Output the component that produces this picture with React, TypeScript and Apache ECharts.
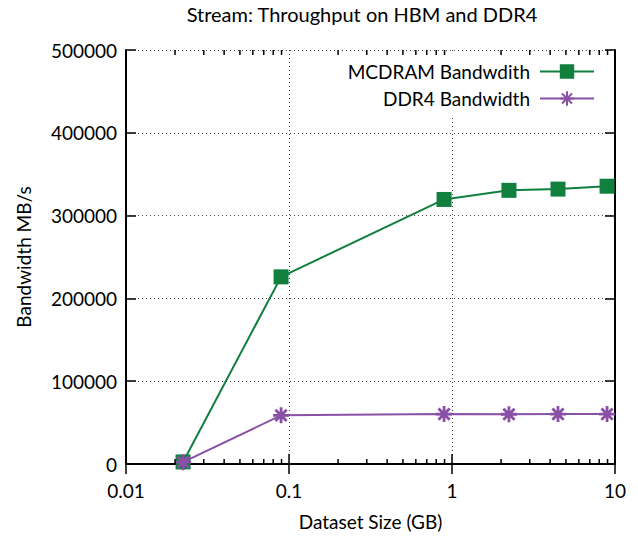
import React, { useEffect, useRef } from "react";
import * as echarts from "echarts";

// Dataset sizes in GB (STREAM arrays: 3 arrays x 8 bytes x N elements)
const datasetSizes = [0.0224, 0.0894, 0.894, 2.235, 4.47, 8.94];
// Measured bandwidth in MB/s
const mcdramBandwidth = [2500, 226000, 319500, 330500, 332000, 335500];
const ddr4Bandwidth = [2200, 58800, 60300, 60100, 60300, 60300];

const seriesNames = ["MCDRAM Bandwdith", "DDR4 Bandwidth"];
const titleText = "Stream: Throughput on HBM and DDR4";
const xAxisName = "Dataset Size (GB)";
const yAxisName = "Bandwidth MB/s";

// Minor tick positions on the log axis: 2..9 within each decade
const decades = [0.01, 0.1, 1];
const minorMultipliers = [2, 3, 4, 5, 6, 7, 8, 9];

const FONT = "Lato, 'Open Sans', sans-serif";
const GREEN = "#11803f";
const PURPLE = "#8a50a6";
const ASTERISK =
  "path://M8,0L8,16M0,8L16,8M2.4,2.4L13.6,13.6M2.4,13.6L13.6,2.4";

export default function App() {
  const ref = useRef<HTMLDivElement>(null);

  useEffect(() => {
    if (!ref.current) return;
    document.body.style.margin = "0";
    const chart = echarts.init(ref.current, undefined, { renderer: "svg" });

    const pairs = (ys: number[]) => datasetSizes.map((x, i) => [x, ys[i]]);
    const minorTicks: number[][] = [];
    decades.forEach((d) =>
      minorMultipliers.forEach((m) => minorTicks.push([+(d * m).toPrecision(3), 0]))
    );

    const xMin = 0.01;
    const xMax = 10;
    const yMin = 0;
    const yMax = 500000;
    const yInterval = 100000;

    const axisLine = { show: true, lineStyle: { color: "#000", width: 2 } };
    const majorTick = {
      show: true,
      inside: true,
      length: 10,
      lineStyle: { color: "#000", width: 1.5 },
    };
    const dotted = {
      show: true,
      lineStyle: { color: "#444", width: 1, type: [1, 3] as any },
    };
    const labelStyle = { color: "#000", fontFamily: FONT, fontSize: 19 };

    chart.setOption({
      animation: false,
      backgroundColor: "#fff",
      textStyle: { fontFamily: FONT },
      graphic: [
        {
          type: "text",
          x: 362,
          y: 14,
          style: {
            text: titleText,
            fill: "#000",
            font: `20px ${FONT}`,
            align: "center",
            verticalAlign: "middle",
          },
        },
      ],
      grid: { left: 126, right: 23, top: 50, bottom: 73, outerBoundsMode: "none" },
      legend: {
        data: seriesNames,
        orient: "vertical",
        align: "right",
        right: 26,
        top: 52,
        padding: [10, 17, 8, 10],
        itemWidth: 54,
        itemHeight: 18,
        itemGap: 8,
        backgroundColor: "#fff",
        textStyle: { ...labelStyle, padding: [0, 5, 0, 0] },
      },
      xAxis: [
        {
          type: "log",
          logBase: 10,
          min: xMin,
          max: xMax,
          position: "bottom",
          name: xAxisName,
          nameLocation: "middle",
          nameGap: 48,
          nameTextStyle: labelStyle,
          axisLine,
          axisTick: majorTick,
          axisLabel: {
            ...labelStyle,
            margin: 17,
            formatter: (v: number) => String(Number(v.toPrecision(2))),
          },
          splitLine: dotted,
          minorTick: { show: false },
        },
        {
          type: "log",
          logBase: 10,
          min: xMin,
          max: xMax,
          position: "top",
          axisLine,
          axisTick: majorTick,
          axisLabel: { show: false },
          splitLine: { show: false },
        },
      ],
      yAxis: [
        {
          type: "value",
          min: yMin,
          max: yMax,
          interval: yInterval,
          position: "left",
          name: yAxisName,
          nameLocation: "middle",
          nameGap: 93,
          nameRotate: 90,
          nameTextStyle: labelStyle,
          axisLine,
          axisTick: majorTick,
          axisLabel: { ...labelStyle, margin: 9, formatter: (v: number) => String(v) },
          splitLine: dotted,
        },
        {
          type: "value",
          min: yMin,
          max: yMax,
          interval: yInterval,
          position: "right",
          axisLine,
          axisTick: majorTick,
          axisLabel: { show: false },
          splitLine: { show: false },
        },
      ],
      series: [
        {
          name: seriesNames[0],
          type: "line",
          xAxisIndex: 0,
          yAxisIndex: 0,
          data: pairs(mcdramBandwidth),
          symbol: "rect",
          symbolSize: 15,
          lineStyle: { color: GREEN, width: 2 },
          itemStyle: { color: GREEN },
          z: 3,
        },
        {
          name: seriesNames[1],
          type: "line",
          xAxisIndex: 0,
          yAxisIndex: 0,
          data: pairs(ddr4Bandwidth),
          symbol: ASTERISK,
          symbolSize: 16,
          lineStyle: { color: PURPLE, width: 2 },
          itemStyle: { color: PURPLE, borderColor: PURPLE, borderWidth: 2.8 },
          z: 4,
        },
        {
          type: "custom",
          xAxisIndex: 0,
          yAxisIndex: 0,
          silent: true,
          clip: false,
          data: minorTicks,
          renderItem: (_params: any, api: any) => {
            const v = api.value(0);
            const b = api.coord([v, yMin]);
            const t = api.coord([v, yMax]);
            const st = { stroke: "#000", lineWidth: 1.5 };
            return {
              type: "group",
              children: [
                { type: "line", shape: { x1: b[0], y1: b[1], x2: b[0], y2: b[1] - 5 }, style: st },
                { type: "line", shape: { x1: t[0], y1: t[1], x2: t[0], y2: t[1] + 5 }, style: st },
              ],
            };
          },
          z: 5,
        },
      ],
    });

    return () => chart.dispose();
  }, []);

  return (
    <div
      ref={ref}
      style={{ position: "absolute", left: 0, top: 0, width: 638, height: 537 }}
    />
  );
}
